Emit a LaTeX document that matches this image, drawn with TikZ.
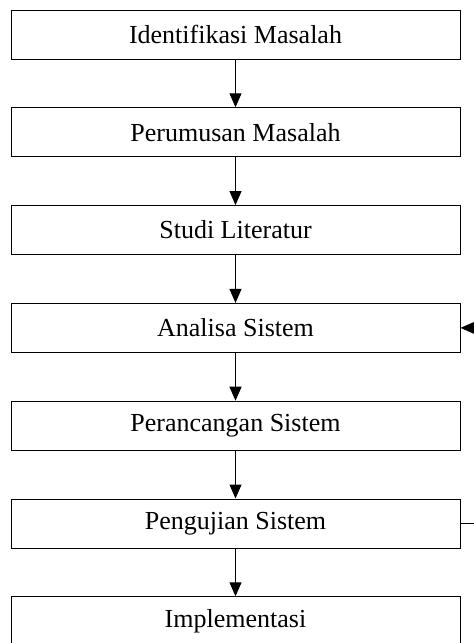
\documentclass[tikz,border=0pt]{standalone}
\usepackage{fontspec}
\setmainfont{Liberation Serif}
\usepackage{tikz}
\usetikzlibrary{arrows.meta}

\begin{document}
\begin{tikzpicture}[x=0.5pt,y=-0.5pt,line width=0.5pt,>={Triangle[length=7pt,width=6pt]},auto]
		\tikzstyle{every node}=[font=\fontsize{13}{15}\selectfont]
		\tikzstyle{tahap}=[draw, rectangle, minimum width=224.5pt, minimum height=24.5pt, inner sep=0pt]

		\useasboundingbox (0, 0) rectangle (474, 643);

		\node[tahap] (identifikasi) at (235.5, 34.5) {Identifikasi Masalah};
		\node[tahap] (perumusan) at (235.5, 132.3) {Perumusan Masalah};
		\node[tahap] (literatur) at (235.5, 230.1) {Studi Literatur};
		\node[tahap] (analisa) at (235.5, 327.9) {Analisa Sistem};
		\node[tahap] (perancangan) at (235.5, 425.7) {Perancangan Sistem};
		\node[tahap] (pengujian) at (235.5, 523.5) {Pengujian Sistem};
		\node[tahap] (implementasi) at (235.5, 621.3) {Implementasi};

		\path[->]
			(identifikasi) edge (perumusan)
			(perumusan) edge (literatur)
			(literatur) edge (analisa)
			(analisa) edge (perancangan)
			(perancangan) edge (pengujian)
			(pengujian) edge (implementasi);
		% balik ke analisa
		\draw[->] (pengujian.east) -- ++(40, 0) |- (analisa.east);
	\end{tikzpicture}
\end{document}
